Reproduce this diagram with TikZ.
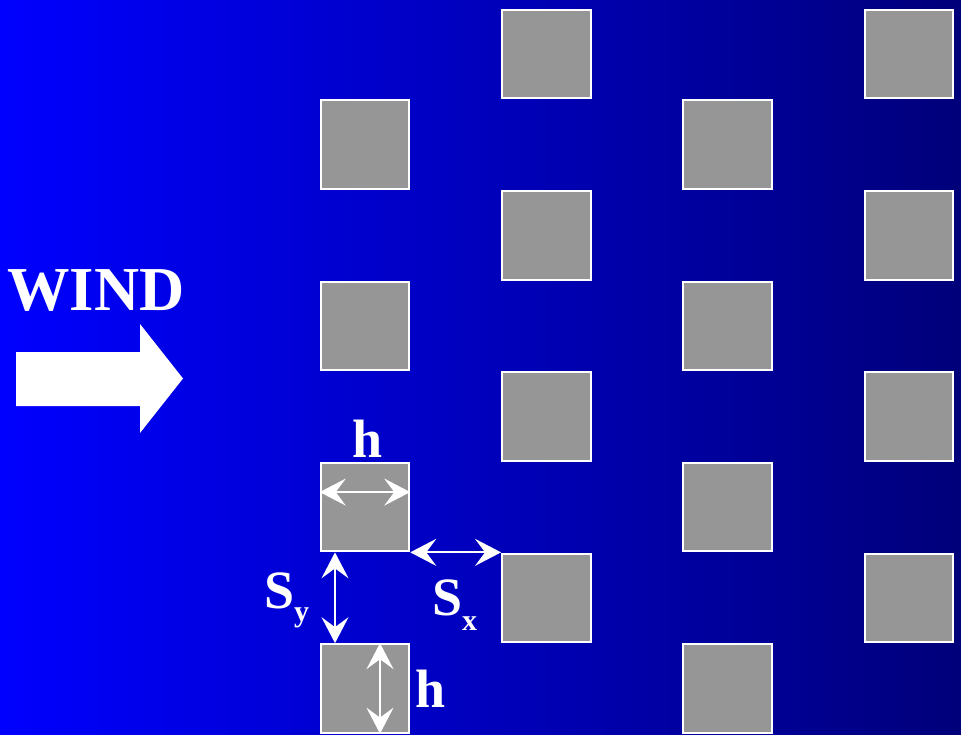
\documentclass[tikz,border=0pt]{standalone}
\usepackage{fontspec}
\setmainfont{Liberation Serif}
\usepackage{tikz}
\usetikzlibrary{arrows.meta}

\definecolor{windblue}{RGB}{0,0,255}
\definecolor{windnavy}{RGB}{0,0,122}
\definecolor{blockgray}{RGB}{150,150,150}

\begin{document}
\begin{tikzpicture}[x=1pt,y=-1pt,
  block/.style={draw=white,line width=2pt,fill=blockgray,minimum size=88.5pt,inner sep=0pt},
  dim/.style={white,line width=2pt,{Stealth[length=26pt,width=27pt,inset=10pt]}-{Stealth[length=26pt,width=27pt,inset=10pt]}},
  lbl/.style={white,inner sep=0pt,font=\fontsize{54}{54}\selectfont\bfseries}]

% background
\shade[left color=windblue,right color=windnavy] (0,0) rectangle (961,735);

% blocks
\foreach \c in {1,...,4}{
  \foreach \r in {1,...,4}{
    \pgfmathsetmacro{\bx}{365+181.3*(\c-1)}
    \pgfmathsetmacro{\by}{54+181.3*(\r-1)+90.5*mod(\c,2)}
    \node[block] (b-\c-\r) at (\bx,\by) {};
  }
}

% wind
\node[white,anchor=base,inner sep=0pt,font=\fontsize{62.5}{62.5}\selectfont\bfseries] (wind) at (96,310) {WIND};
\fill[white] (16,352) -- (140,352) -- (140,324) -- (183,378.5) -- (140,433) -- (140,406) -- (16,406) -- cycle;

% h across
\draw[dim] ([yshift=15pt]b-1-3.west) -- ([yshift=15pt]b-1-3.east);
\node[lbl,anchor=base] (hx) at (368,457) {h};

% Sx
\draw[dim] (b-1-3.south east) -- (b-1-3.south east -| b-2-4.west);
\node[lbl,anchor=base west] (sx) at (432,615) {S\raisebox{-15pt}{\fontsize{30}{30}\selectfont x}};

% Sy
\draw[dim] ([xshift=-30pt]b-1-3.south) -- ([xshift=-30pt]b-1-4.north);
\node[lbl,anchor=base west] (sy) at (264,608) {S\raisebox{-13pt}{\fontsize{30}{30}\selectfont y}};

% h down
\draw[dim] ([xshift=15pt]b-1-4.north) -- ([xshift=15pt]b-1-4.south);
\node[lbl,anchor=base west] (hy) at (415,707) {h};

\end{tikzpicture}
\end{document}
